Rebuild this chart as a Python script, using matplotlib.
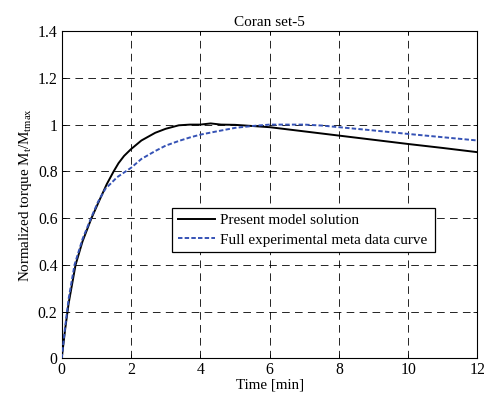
import matplotlib
matplotlib.use("Agg")
import matplotlib.pyplot as plt

plt.rcParams['font.family'] = ['Liberation Serif', 'DejaVu Serif']
plt.rcParams['mathtext.fontset'] = 'custom'
plt.rcParams['mathtext.rm'] = 'Liberation Serif'
plt.rcParams['mathtext.it'] = 'Liberation Serif'
plt.rcParams['lines.scale_dashes'] = False

# Present model solution
model_t = [0, 0.1, 0.2, 0.4, 0.6, 0.86, 1.1, 1.3, 1.5, 1.64, 1.8, 2.0, 2.3, 2.7, 3.0,
           3.38, 3.7, 4.0, 4.3, 4.6, 5.0, 5.5, 6.0, 7.0, 8.0, 9.0, 10.0, 11.0, 12.0]
model_y = [0, 0.125, 0.235, 0.40, 0.50, 0.60, 0.68, 0.745, 0.80, 0.835, 0.866, 0.895, 0.932,
           0.965, 0.982, 0.997, 1.0, 1.0, 1.005, 1.0, 0.999, 0.994, 0.989, 0.971, 0.953,
           0.935, 0.917, 0.9, 0.882]

# Full experimental meta data curve
exp_t = [0, 0.1, 0.2, 0.37, 0.6, 0.86, 1.05, 1.26, 1.6, 2.0, 2.3, 2.7, 3.0, 3.38, 3.7,
         4.0, 4.44, 5.0, 5.5, 6.0, 6.5, 7.0, 7.5, 8.0, 9.0, 10.0, 11.0, 12.0]
exp_y = [0, 0.135, 0.255, 0.40, 0.51, 0.605, 0.67, 0.725, 0.775, 0.815, 0.853, 0.887, 0.91,
         0.93, 0.945, 0.957, 0.97, 0.986, 0.994, 1.0, 1.0, 1.0, 0.996, 0.989, 0.975, 0.96,
         0.946, 0.932]

x_ticks = [0, 2, 4, 6, 8, 10, 12]
y_ticks = [0, 0.2, 0.4, 0.6, 0.8, 1.0, 1.2, 1.4]
y_ticklabels = ['0', '0.2', '0.4', '0.6', '0.8', '1', '1.2', '1.4']

fig = plt.figure(figsize=(4.84, 3.99), dpi=100)
ax = fig.add_axes([0.1275, 0.102, 0.859, 0.820])

ax.plot(model_t, model_y, color='black', lw=1.4, label='Present model solution', zorder=3)
ax.plot(exp_t, exp_y, color='#3552b5', lw=1.4, linestyle=(0, (3.2, 1.6)),
        label='Full experimental meta data curve', zorder=3)

ax.set_xlim(0, 12)
ax.set_ylim(0, 1.4)
ax.set_xticks(x_ticks)
ax.set_yticks(y_ticks)
ax.set_yticklabels(y_ticklabels)
ax.grid(True, color='black', lw=0.6, linestyle=(0, (5.5, 3.8)))
ax.tick_params(direction='in', top=True, right=True, length=3, width=0.6,
               labelsize=11.3, pad=3)
for s in ax.spines.values():
    s.set_linewidth(0.8)

ax.set_title('Coran set-5', fontsize=11, pad=4)
ax.set_xlabel('Time [min]', fontsize=10.8, labelpad=0)
ax.set_ylabel(r'Normalized torque M$_{\mathrm{t}}$/M$_{\mathrm{tmax}}$', fontsize=10.8, labelpad=3)

leg = ax.legend(loc='lower left', bbox_to_anchor=(0.266, 0.325, 0.633, 0.132), mode='expand',
                fontsize=10.9, frameon=True, fancybox=False, edgecolor='black',
                borderpad=0.35, labelspacing=0.38, handlelength=2.5, handletextpad=0.3,
                borderaxespad=0)
leg.get_frame().set_linewidth(0.9)
leg.get_frame().set_alpha(1)

fig.savefig('out.png', dpi=100)
